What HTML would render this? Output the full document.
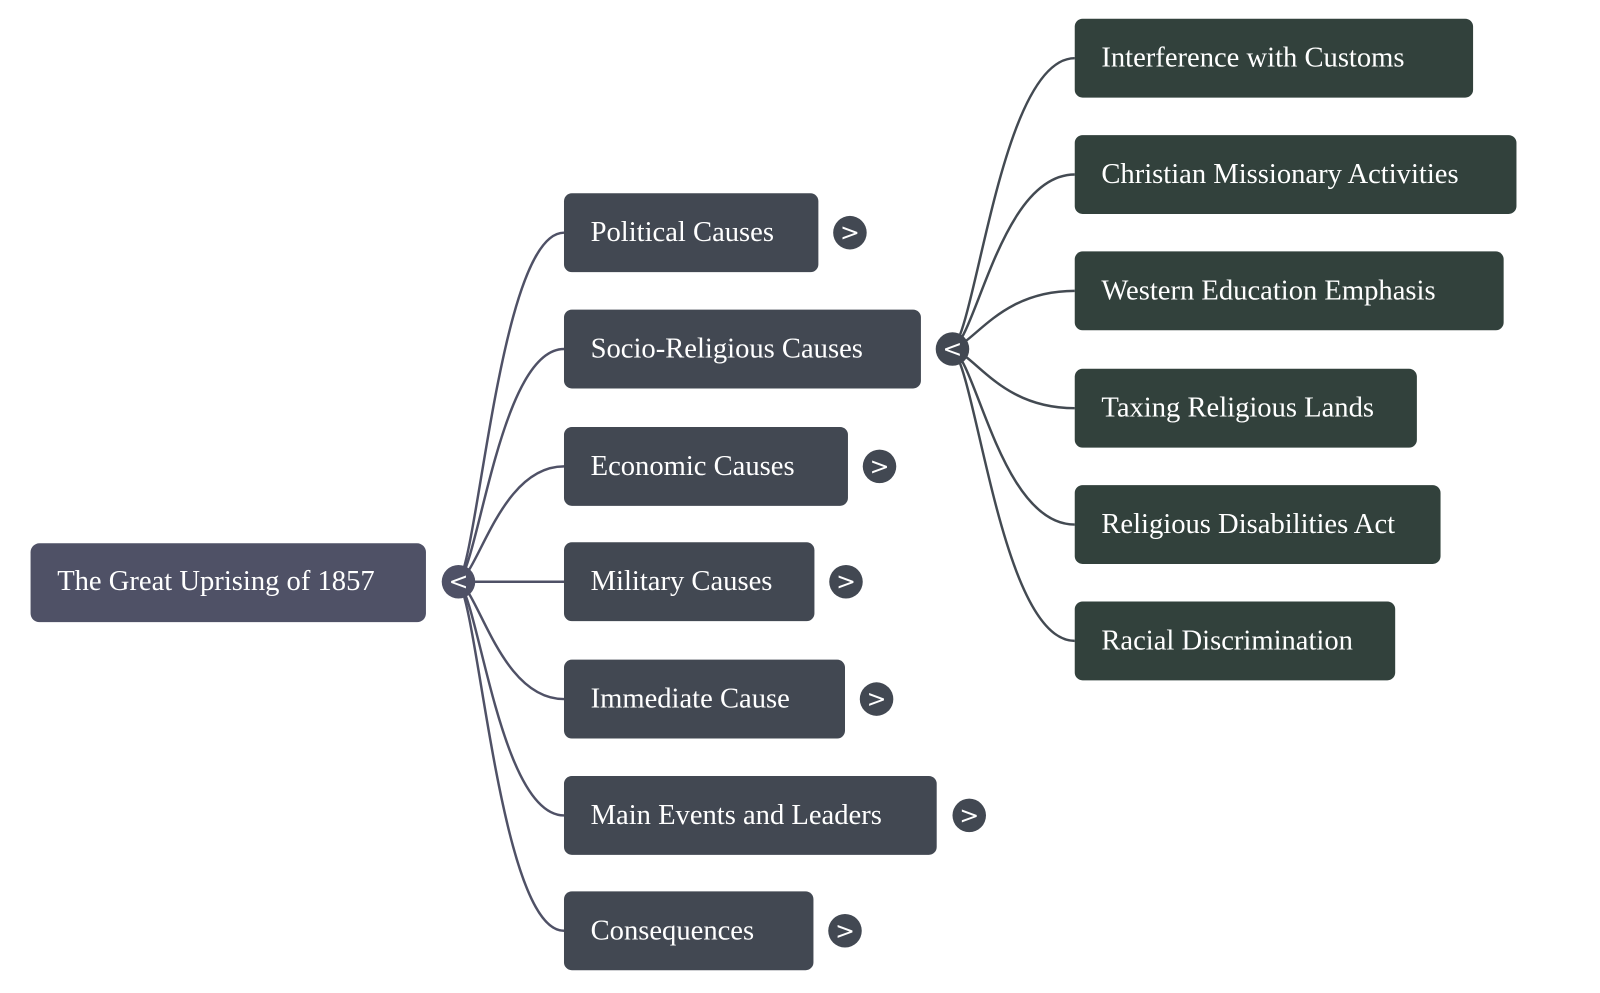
<!DOCTYPE html>
<html><head><meta charset="utf-8"><style>
html,body{margin:0;padding:0;background:#fff;}
svg{display:block}
text{font-family:"Liberation Serif",serif;font-size:29px;fill:#fff;dominant-baseline:central}
.t{font-family:"DejaVu Sans",sans-serif;font-size:24px;text-anchor:middle}
</style></head><body>
<svg width="1600" height="993" viewBox="0 0 1600 993" xmlns="http://www.w3.org/2000/svg">
<g transform="scale(0.986)">
<g fill="none" stroke="#4f5166" stroke-width="2.5">
<path d="M465 590 C486 560 508 236 572 236"/>
<path d="M465 590 C486 570 508 354 572 354"/>
<path d="M465 590 C486 580 508 473 572 473"/>
<path d="M465 590 L572 590"/>
<path d="M465 590 C486 600 508 709 572 709"/>
<path d="M465 590 C486 610 508 827 572 827"/>
<path d="M465 590 C486 620 508 944 572 944"/>
</g>
<g fill="none" stroke="#434a52" stroke-width="2.5">
<path d="M966 354 C991 330 1016 59 1090 59"/>
<path d="M966 354 C991 340 1016 177 1090 177"/>
<path d="M966 354 C991 345 1016 295 1090 295"/>
<path d="M966 354 C991 362 1016 414 1090 414"/>
<path d="M966 354 C991 368 1016 532 1090 532"/>
<path d="M966 354 C991 378 1016 650 1090 650"/>
</g>
<rect x="31" y="551" width="401" height="80" rx="9" fill="#4f5166"/>
<text x="58" y="590">The Great Uprising of 1857</text>
<circle cx="465" cy="590" r="17" fill="#4f5166"/><text class="t" x="465" y="590">&lt;</text>

<g fill="#424852">
<rect x="572" y="196" width="258" height="80" rx="8"/>
<rect x="572" y="314" width="362" height="80" rx="8"/>
<rect x="572" y="433" width="288" height="80" rx="8"/>
<rect x="572" y="550" width="254" height="80" rx="8"/>
<rect x="572" y="669" width="285" height="80" rx="8"/>
<rect x="572" y="787" width="378" height="80" rx="8"/>
<rect x="572" y="904" width="253" height="80" rx="8"/>
<circle cx="862" cy="236" r="17"/><circle cx="966" cy="354" r="17"/><circle cx="892" cy="473" r="17"/>
<circle cx="858" cy="590" r="17"/><circle cx="889" cy="709" r="17"/><circle cx="983" cy="827" r="17"/><circle cx="857" cy="944" r="17"/>
</g>
<text x="599" y="236">Political Causes</text>
<text x="599" y="354">Socio-Religious Causes</text>
<text x="599" y="473">Economic Causes</text>
<text x="599" y="590">Military Causes</text>
<text x="599" y="709">Immediate Cause</text>
<text x="599" y="827">Main Events and Leaders</text>
<text x="599" y="944">Consequences</text>
<text class="t" x="862" y="236">&gt;</text><text class="t" x="966" y="354">&lt;</text><text class="t" x="892" y="473">&gt;</text>
<text class="t" x="858" y="590">&gt;</text><text class="t" x="889" y="709">&gt;</text><text class="t" x="983" y="827">&gt;</text><text class="t" x="857" y="944">&gt;</text>

<g fill="#32413c">
<rect x="1090" y="19" width="404" height="80" rx="8"/>
<rect x="1090" y="137" width="448" height="80" rx="8"/>
<rect x="1090" y="255" width="435" height="80" rx="8"/>
<rect x="1090" y="374" width="347" height="80" rx="8"/>
<rect x="1090" y="492" width="371" height="80" rx="8"/>
<rect x="1090" y="610" width="325" height="80" rx="8"/>
</g>
<text x="1117" y="59">Interference with Customs</text>
<text x="1117" y="177">Christian Missionary Activities</text>
<text x="1117" y="295">Western Education Emphasis</text>
<text x="1117" y="414">Taxing Religious Lands</text>
<text x="1117" y="532">Religious Disabilities Act</text>
<text x="1117" y="650">Racial Discrimination</text>
</g>
</svg>
</body></html>
